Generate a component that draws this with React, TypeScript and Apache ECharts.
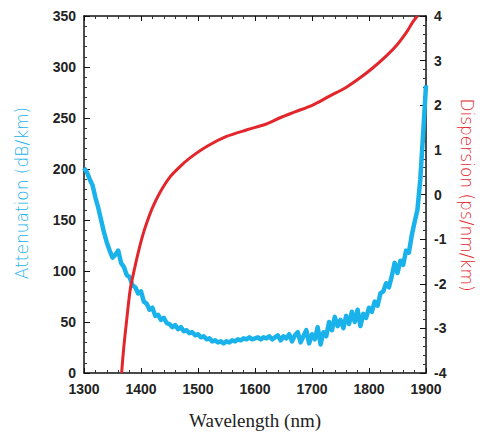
import React, { useEffect, useRef } from "react";
import * as echarts from "echarts";

const wavelengthTicks = [1300, 1400, 1500, 1600, 1700, 1800, 1900];

const attWavelength = [
  1300, 1305, 1310, 1315, 1320, 1325, 1330, 1335, 1340, 1345, 1350, 1355, 1360, 1365, 1370, 1375, 1380, 1385, 1390, 1395,
  1400, 1405, 1410, 1415, 1420, 1425, 1430, 1435, 1440, 1445, 1450, 1455, 1460, 1465, 1470, 1475, 1480, 1485, 1490, 1495,
  1500, 1505, 1510, 1515, 1520, 1525, 1530, 1535, 1540, 1545, 1550, 1555, 1560, 1565, 1570, 1575, 1580, 1585, 1590, 1595,
  1600, 1605, 1610, 1615, 1620, 1625, 1630, 1635, 1640, 1645, 1650, 1655, 1660, 1665, 1670, 1675, 1680, 1685, 1690, 1695,
  1700, 1705, 1710, 1715, 1720, 1725, 1730, 1735, 1740, 1745, 1750, 1755, 1760, 1765, 1770, 1775, 1780, 1785, 1790, 1795,
  1800, 1805, 1810, 1815, 1820, 1825, 1830, 1835, 1840, 1845, 1850, 1855, 1860, 1865, 1870, 1875, 1880, 1885, 1890, 1895,
  1900,
];
const attenuation = [
  201, 197, 190, 184, 172, 162, 150, 138, 128, 120, 113, 116, 120, 108, 104, 96, 94, 86, 84, 78,
  80, 70, 68, 62, 64, 56, 57, 52, 54, 49, 48, 45, 47, 43, 45, 41, 42, 39, 40, 37,
  38, 35, 36, 33, 34, 31, 32, 30, 31, 29, 31, 30, 32, 31, 33, 32, 34, 33, 35, 33,
  34, 35, 33, 35, 34, 36, 33, 35, 37, 32, 36, 34, 38, 31, 37, 40, 30, 36, 42, 29,
  38, 33, 45, 28, 40, 36, 50, 42, 55, 46, 52, 44, 56, 48, 60, 50, 62, 46, 58, 54,
  64, 60, 70, 66, 78, 80, 88, 84, 95, 108, 98, 110, 106, 120, 118, 135, 148, 160, 190, 235,
  282,
];

const dispWavelength = [
  1366, 1370, 1375, 1381, 1388, 1395, 1402, 1410, 1420, 1433, 1450, 1468, 1486, 1516, 1550, 1586, 1620, 1644,
  1670, 1702, 1730, 1761, 1785, 1807, 1830, 1849, 1865, 1877, 1885,
];
const dispersion = [
  -4.0, -3.4, -2.8, -2.14, -1.7, -1.31, -0.96, -0.64, -0.3, 0.04, 0.38, 0.62, 0.82, 1.08, 1.3, 1.45, 1.58, 1.72,
  1.85, 2.01, 2.2, 2.41, 2.62, 2.84, 3.1, 3.35, 3.62, 3.87, 4.0,
];

const BLUE = "#1ab2ea";
const RED = "#e2262b";

export default function App() {
  const ref = useRef<HTMLDivElement>(null);
  useEffect(() => {
    if (!ref.current) return;
    const chart = echarts.init(ref.current, null, { renderer: "svg" });
    const tickLabel = {
      color: "#222",
      fontFamily: "Liberation Sans, Arial, sans-serif",
      fontWeight: "bold" as const,
      fontSize: 14,
    };
    const axisLine = { show: true, onZero: false, lineStyle: { color: "#111", width: 1.5 } };
    chart.setOption({
      animation: false,
      backgroundColor: "#fff",
      grid: { left: 84, top: 16, right: 58, bottom: 64, containLabel: false },
      xAxis: [
        {
          type: "value",
          min: 1300,
          max: 1900,
          interval: 100,
          axisLine,
          axisTick: { inside: true, length: 5, lineStyle: { color: "#111" } },
          minorTick: { show: true, splitNumber: 5, length: 3, lineStyle: { color: "#333" } },
          splitLine: { show: false },
          axisLabel: { ...tickLabel, margin: 9, formatter: (v: number) => (wavelengthTicks.includes(v) ? String(v) : "") },
          name: "Wavelength (nm)",
          nameLocation: "middle",
          nameGap: 38,
          nameTextStyle: { fontFamily: "Liberation Serif, Times New Roman, serif", fontSize: 19, color: "#222" },
        },
        {
          type: "value",
          position: "top",
          min: 1300,
          max: 1900,
          interval: 100,
          axisLine,
          axisTick: { inside: true, length: 5, lineStyle: { color: "#111" } },
          minorTick: { show: true, splitNumber: 5, length: 3, lineStyle: { color: "#333" } },
          splitLine: { show: false },
          axisLabel: { show: false },
        },
      ],
      yAxis: [
        {
          type: "value",
          min: 0,
          max: 350,
          interval: 50,
          axisLine,
          axisTick: { inside: true, length: 6, lineStyle: { color: "#111" } },
          minorTick: { show: true, splitNumber: 5, length: 3, lineStyle: { color: "#333" } },
          splitLine: { show: false },
          axisLabel: { ...tickLabel, margin: 8 },
        },
        {
          type: "value",
          min: -4,
          max: 4,
          interval: 1,
          position: "right",
          axisLine,
          axisTick: { inside: true, length: 6, lineStyle: { color: "#111" } },
          minorTick: { show: true, splitNumber: 5, length: 3, lineStyle: { color: "#333" } },
          splitLine: { show: false },
          axisLabel: { ...tickLabel, margin: 8 },
        },
      ],
      graphic: [
        {
          type: "text",
          x: 22,
          y: 193,
          rotation: Math.PI / 2,
          style: {
            text: "Attenuation (dB/km)",
            fill: BLUE,
            font: "200 17px 'DejaVu Sans', sans-serif",
            align: "center",
            verticalAlign: "middle",
          },
        },
        {
          type: "text",
          x: 467,
          y: 195,
          rotation: -Math.PI / 2,
          style: {
            text: "Dispersion (ps/nm/km)",
            fill: RED,
            font: "200 17px 'DejaVu Sans', sans-serif",
            align: "center",
            verticalAlign: "middle",
          },
        },
      ],
      series: [
        {
          type: "line",
          xAxisIndex: 0,
          yAxisIndex: 0,
          data: attWavelength.map((w, i) => [w, attenuation[i]]),
          showSymbol: false,
          lineStyle: { color: BLUE, width: 4.5, join: "round" },
          clip: true,
        },
        {
          type: "line",
          xAxisIndex: 0,
          yAxisIndex: 1,
          data: dispWavelength.map((w, i) => [w, dispersion[i]]),
          showSymbol: false,
          smooth: 0.3,
          lineStyle: { color: RED, width: 3 },
          clip: true,
        },
      ],
    });
    return () => chart.dispose();
  }, []);
  return (
    <div
      ref={ref}
      style={{ position: "absolute", left: 0, top: 0, width: 484, height: 437 }}
    />
  );
}
